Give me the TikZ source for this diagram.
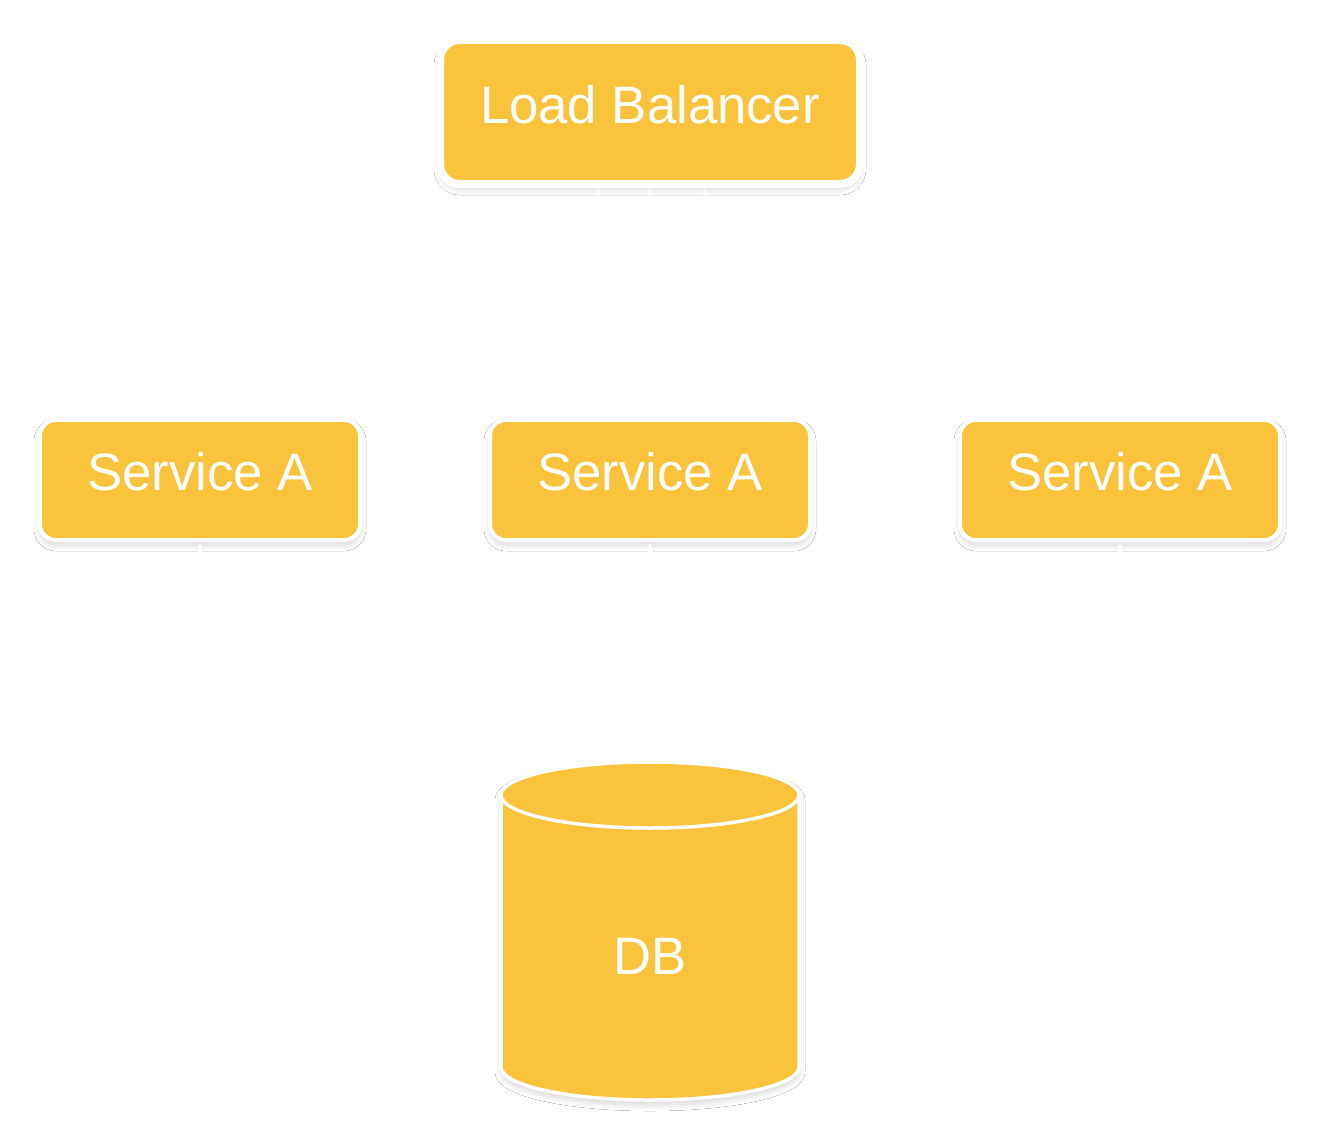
\documentclass[tikz,border=0pt]{standalone}
\usepackage{fontspec}
\setmainfont{Liberation Sans}
\usetikzlibrary{shadows.blur,arrows.meta}
\definecolor{boxfill}{HTML}{F9C33B}
\begin{document}
\begin{tikzpicture}[x=1pt,y=-1pt,
  softshadow/.style={blur shadow={shadow xshift=0pt, shadow yshift=-5pt, shadow blur radius=6pt, shadow blur steps=10, shadow opacity=16}},
  box/.style={draw=white, fill=boxfill, text=white,
    font=\fontsize{52.7}{60}\selectfont, inner sep=0pt, softshadow},
  dbnode/.style={inner sep=0pt, text=white, font=\fontsize{52.7}{60}\selectfont, minimum width=298pt, minimum height=338pt},
  link/.style={draw=white, line width=2pt, -{Triangle[width=9pt,length=16pt]}}]
\fill[white] (0,0) rectangle (1320,1140);
% nodes
\node[box, line width=8pt, rounded corners=20pt, minimum width=420pt, minimum height=144pt] (lb) at (650,112) {\raisebox{-11pt}[0pt][0pt]{Load Balancer}};
\node[box, line width=4pt, rounded corners=16pt, minimum width=320pt, minimum height=120pt] (s1) at (200,480) {\raisebox{-10.5pt}[0pt][0pt]{Service A}};
\node[box, line width=4pt, rounded corners=16pt, minimum width=320pt, minimum height=120pt] (s2) at (650,480) {\raisebox{-10.5pt}[0pt][0pt]{Service A}};
\node[box, line width=4pt, rounded corners=16pt, minimum width=320pt, minimum height=120pt] (s3) at (1120,480) {\raisebox{-10.5pt}[0pt][0pt]{Service A}};
% database cylinder
\path[draw=white, line width=3.5pt, fill=boxfill, softshadow]
  (501,795) -- (501,1067) arc[start angle=180, end angle=360, x radius=149pt, y radius=33pt]
  -- (799,795) arc[start angle=0, end angle=180, x radius=149pt, y radius=33pt] -- cycle;
\draw[white, line width=3.5pt] (501,795) arc[start angle=180, end angle=360, x radius=149pt, y radius=33pt];
\node[dbnode] (db) at (650,931) {\raisebox{-43.8pt}[0pt][0pt]{DB}};
% connectors
\draw[link] (s1.north) -- ++(0,-116) -| ([xshift=-52pt]lb.south);
\draw[link] (s2.north) -- (lb.south);
\draw[link] (s3.north) -- ++(0,-116) -| ([xshift=55pt]lb.south);
\draw[link] (db.north) -- ++(0,-110) -| (s1.south);
\draw[link] (db.north) -- (s2.south);
\draw[link] (db.north) -- ++(0,-110) -| (s3.south);
\end{tikzpicture}
\end{document}
